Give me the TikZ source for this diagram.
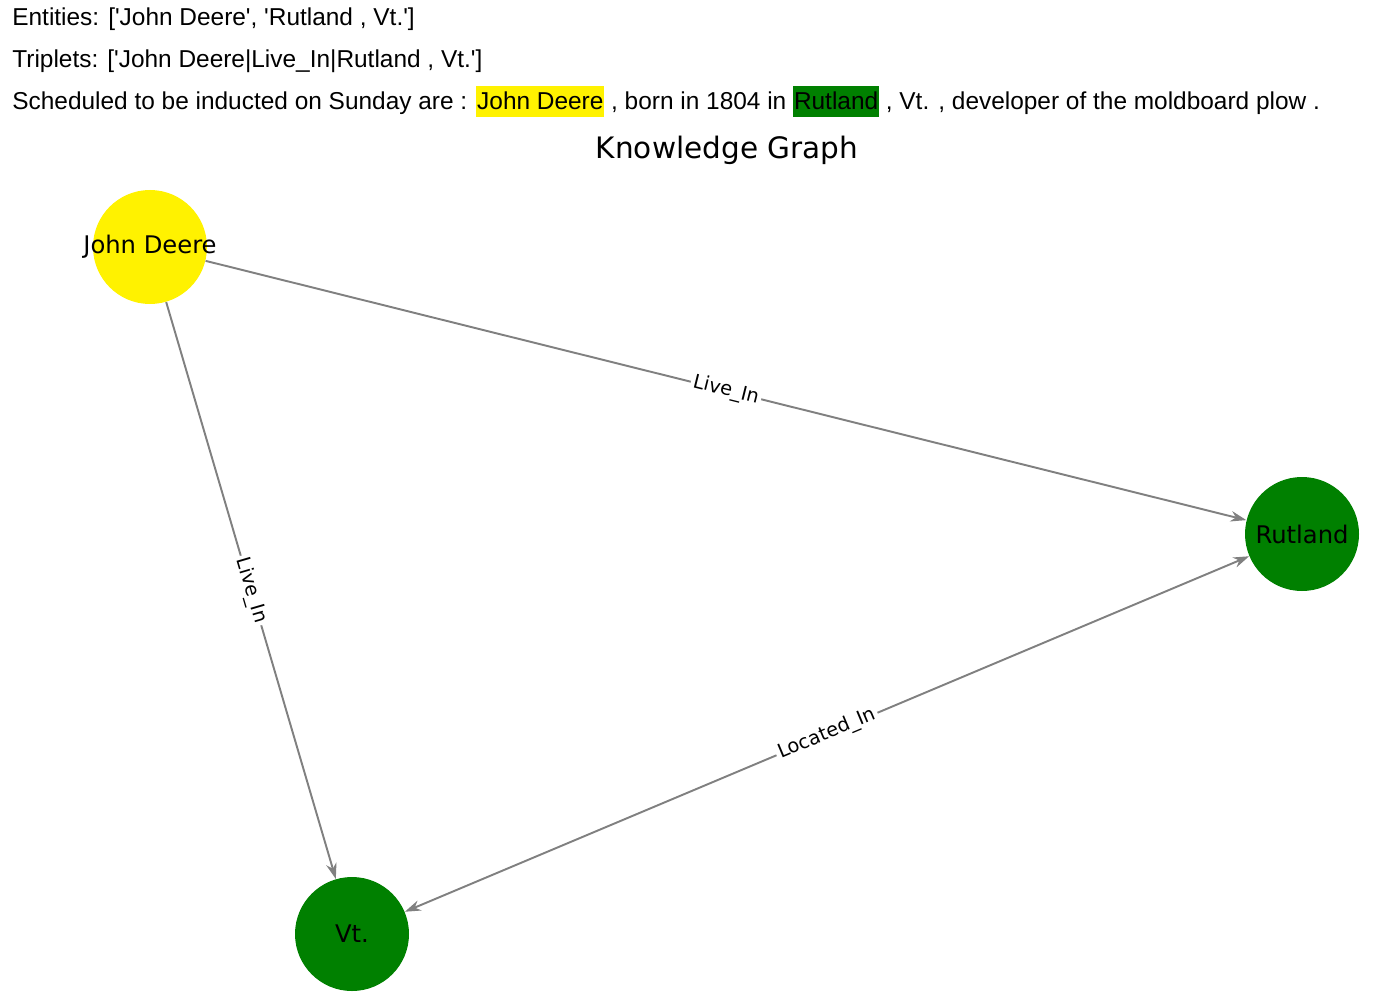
\documentclass[tikz,border=0pt]{standalone}
\usepackage{fontspec}
\setmainfont[Ligatures=TeXOff]{Liberation Sans}
\newfontfamily\dejavu{DejaVu Sans}
\usetikzlibrary{arrows.meta}
\definecolor{kggreen}{RGB}{0,128,0}
\definecolor{kggray}{RGB}{128,128,128}
\newcommand{\hilite}[2]{{\setlength{\fboxsep}{0.5pt}\colorbox{#1}{\rule[-3.4pt]{0pt}{16.4pt}#2}}}
\tikzset{
	entity/.style={circle, minimum size=2.28cm, inner sep=0pt},
	relation/.style={draw=kggray, line width=1.1pt, -{Stealth[length=9pt,width=6pt]}},
	rellabel/.style={midway, sloped, fill=white, inner sep=1.5pt, font=\dejavu\fontsize{11}{13}\selectfont},
	infoline/.style={anchor=base west, inner sep=0pt, font=\fontsize{13.9}{16}\selectfont}
}
\begin{document}
\begin{tikzpicture}
	\useasboundingbox (0,0) rectangle (27.46,-19.98);

	% header lines
	\node[infoline] (entities) at (0.24,-0.52) {Entities: ['John Deere', 'Rutland , Vt.']};
	\node[infoline] (triplets) at (0.24,-1.36) {Triplets: ['John Deere|Live\_In|Rutland , Vt.']};
	\node[infoline] (sentence) at (0.24,-2.2) {Scheduled to be inducted on Sunday are : \hilite{yellow}{John Deere} , born in 1804 in \hilite{kggreen}{Rutland} , Vt. , developer of the moldboard plow .};
	\node[font=\dejavu\fontsize{16.8}{20}\selectfont] (title) at (14.54,-3.0) {Knowledge Graph};

	% graph
	\node[entity, fill=yellow, label={[font=\dejavu\fontsize{13.8}{16}\selectfont]center:John Deere}] (deere) at (3.0,-4.94) {};
	\node[entity, fill=kggreen, label={[font=\dejavu\fontsize{13.8}{16}\selectfont]center:Rutland}] (rutland) at (26.04,-10.68) {};
	\node[entity, fill=kggreen, label={[font=\dejavu\fontsize{13.8}{16}\selectfont]center:Vt.}] (vt) at (7.04,-18.68) {};

	\draw[relation] (deere) -- node[rellabel] {Live\_In} (rutland);
	\draw[relation] (deere) -- node[rellabel] {Live\_In} (vt);
	\draw[relation, {Stealth[length=9pt,width=6pt]}-{Stealth[length=9pt,width=6pt]}] (vt) -- node[rellabel] {Located\_In} (rutland);
\end{tikzpicture}
\end{document}
